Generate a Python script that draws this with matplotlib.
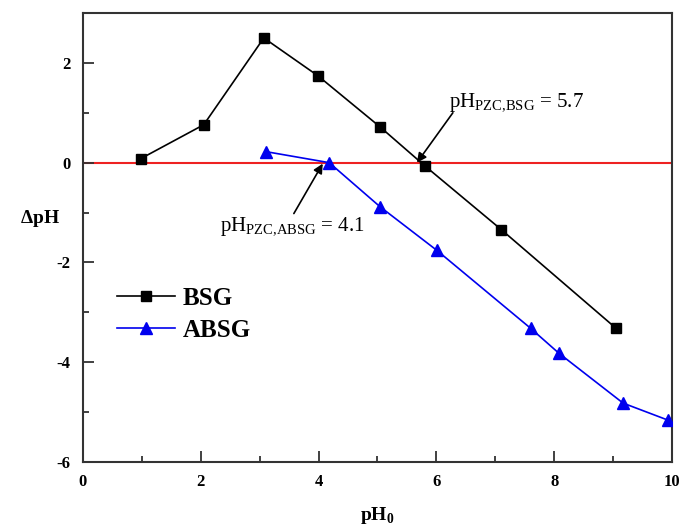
import matplotlib
matplotlib.use("Agg")
import matplotlib.pyplot as plt
from matplotlib.ticker import MultipleLocator

plt.rcParams['font.family'] = ['Liberation Serif', 'DejaVu Serif']
plt.rcParams['mathtext.fontset'] = 'custom'
plt.rcParams['mathtext.rm'] = 'Liberation Serif'
plt.rcParams['mathtext.bf'] = 'Liberation Serif:bold'
plt.rcParams['axes.unicode_minus'] = False

bsg_x = [0.98, 2.05, 3.07, 3.99, 5.04, 5.80, 7.10, 9.05]
bsg_y = [0.08, 0.76, 2.50, 1.74, 0.72, -0.06, -1.34, -3.32]
absg_x = [3.11, 4.18, 5.04, 6.01, 7.60, 8.08, 9.17, 9.93]
absg_y = [0.22, 0.00, -0.88, -1.76, -3.32, -3.82, -4.82, -5.16]

fig = plt.figure(figsize=(6.82, 5.26), dpi=100)
ax = fig.add_axes([0.1217, 0.1217, 0.8636, 0.8536])

ax.axhline(0, color='#ee2222', lw=1.5, zorder=1)
ax.plot(bsg_x, bsg_y, color='black', lw=1.2, marker='s', ms=7.5, label='BSG', zorder=3)
ax.plot(absg_x, absg_y, color='#0000ee', lw=1.2, marker='^', ms=8.5, label='ABSG', zorder=3)

ax.set_xlim(0, 10)
ax.set_ylim(-6, 3)
ax.xaxis.set_major_locator(MultipleLocator(2))
ax.xaxis.set_minor_locator(MultipleLocator(1))
ax.yaxis.set_major_locator(MultipleLocator(2))
ax.yaxis.set_minor_locator(MultipleLocator(1))
ax.tick_params(which='both', direction='in', top=False, right=False, width=1.3, color='#333333')
ax.tick_params(which='major', length=8, labelsize=12, pad=9)
ax.tick_params(which='minor', length=4)
for lab in ax.get_xticklabels() + ax.get_yticklabels():
    lab.set_fontweight('bold')
for s in ax.spines.values():
    s.set_linewidth(1.5)
    s.set_color('#333333')

ax.set_xlabel(r'pH$_\mathbf{0}$', fontsize=14, fontweight='bold')
ax.set_ylabel(r'$\mathbf{\Delta}$pH', fontsize=14, fontweight='bold', rotation=0)
ax.xaxis.set_label_coords(0.5, -0.095)
ax.yaxis.set_label_coords(-0.073, 0.52)

arrow = dict(arrowstyle='-|>', color='black', lw=1.2, mutation_scale=14, shrinkA=0, shrinkB=0)
ax.annotate('', xy=(5.67, 0.0), xytext=(6.28, 1.0), arrowprops=arrow)
ax.annotate('', xy=(4.07, -0.02), xytext=(3.58, -1.02), arrowprops=arrow)
ax.text(6.22, 1.12, r'pH$_{\mathrm{PZC{,}BSG}}$ = 5.7', fontsize=15, ha='left', va='baseline')
ax.text(2.32, -1.36, r'pH$_{\mathrm{PZC{,}ABSG}}$ = 4.1', fontsize=15, ha='left', va='baseline')

leg = ax.legend(loc='upper left', bbox_to_anchor=(0.02, 0.44), frameon=False,
                prop={'family': 'Liberation Serif', 'weight': 'bold', 'size': 18},
                handlelength=2.3, handletextpad=0.3, labelspacing=0.35)

fig.savefig('out.png', dpi=100)
